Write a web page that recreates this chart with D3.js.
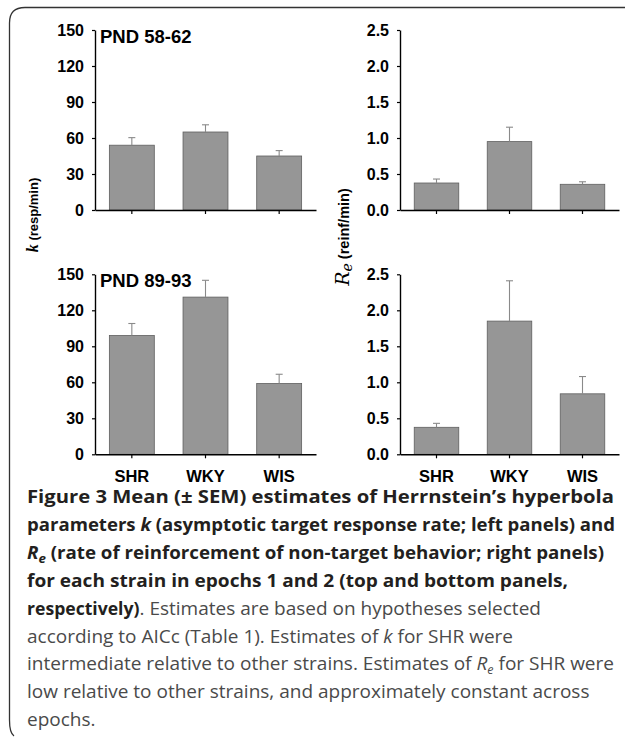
<!DOCTYPE html>
<html>
<head>
<meta charset="utf-8">
<script src="https://cdn.jsdelivr.net/npm/d3@7"></script>
<style>
  html, body { margin: 0; padding: 0; background: #fff; }
  svg { display: block; }
</style>
</head>
<body>
<svg id="chart" width="625" height="737"></svg>
<script>
// ---------- data ----------
const categories = ["SHR", "WKY", "WIS"];
const kEpoch1 = [54, 65, 45];
const kEpoch1Sem = [6.3, 6, 4.5];
const reEpoch1 = [0.375, 0.95, 0.357];
const reEpoch1Sem = [0.055, 0.2, 0.035];
const kEpoch2 = [99, 131, 59];
const kEpoch2Sem = [10, 14, 7.7];
const reEpoch2 = [0.375, 1.85, 0.84];
const reEpoch2Sem = [0.055, 0.56, 0.24];
const kTicks = [0, 30, 60, 90, 120, 150];
const reTicks = [0, 0.5, 1.0, 1.5, 2.0, 2.5];
const panelTitles = ["PND 58-62", "PND 89-93"];

const svg = d3.select("#chart");
const sansBold = "'Liberation Sans', Arial, sans-serif";

// frame
svg.append("path")
  .attr("d", "M625,7.5 H25 Q9.5,7.5 9.5,23 V720 Q9.5,733 14,736")
  .attr("fill", "none").attr("stroke", "#333").attr("stroke-width", 1.3);

function panel(opts) {
  const x = d3.scaleBand().domain(categories).range(opts.xr).paddingInner(0.39).paddingOuter(0.195);
  const y = d3.scaleLinear().domain([0, opts.max]).range(opts.yr);
  const g = svg.append("g");
  const data = categories.map((c, i) => ({c, v: opts.vals[i], e: opts.sem[i]}));

  g.selectAll("rect.bar").data(data).join("rect")
    .attr("x", d => x(d.c)).attr("width", x.bandwidth())
    .attr("y", d => y(d.v)).attr("height", d => y(0) - y(d.v))
    .attr("fill", "#969696").attr("stroke", "#5f5f5f").attr("stroke-width", 0.8);
  g.selectAll("line.err").data(data).join("line")
    .attr("x1", d => x(d.c) + x.bandwidth() / 2).attr("x2", d => x(d.c) + x.bandwidth() / 2)
    .attr("y1", d => y(d.v)).attr("y2", d => y(d.v + d.e))
    .attr("stroke", "#8a8a8a").attr("stroke-width", 1.1);
  g.selectAll("line.cap").data(data).join("line")
    .attr("x1", d => x(d.c) + x.bandwidth() / 2 - 3.5).attr("x2", d => x(d.c) + x.bandwidth() / 2 + 3.5)
    .attr("y1", d => y(d.v + d.e)).attr("y2", d => y(d.v + d.e))
    .attr("stroke", "#8a8a8a").attr("stroke-width", 1.1);

  const ya = g.append("g").attr("transform", `translate(${opts.xr[0]},0)`)
    .call(d3.axisLeft(y).tickValues(opts.ticks).tickSize(3).tickSizeOuter(0).tickPadding(8)
      .tickFormat(opts.fmt));
  ya.select(".domain").attr("stroke", "#000").attr("stroke-width", 1.4);
  ya.selectAll(".tick line").attr("stroke", "#000").attr("stroke-width", 1.2);
  ya.selectAll(".tick text").attr("font-family", sansBold).attr("font-weight", "bold")
    .attr("font-size", 16).attr("fill", "#000");

  const xa = g.append("g").attr("transform", `translate(0,${opts.yr[0]})`)
    .call(d3.axisBottom(x).tickSize(4).tickSizeOuter(0).tickPadding(12));
  xa.select(".domain").attr("stroke", "#000").attr("stroke-width", 1.4);
  xa.selectAll(".tick line").attr("stroke", "#000").attr("stroke-width", 1.2);
  xa.selectAll(".tick text").attr("font-family", sansBold).attr("font-weight", "bold")
    .attr("font-size", 16.5).attr("fill", "#000")
    .style("display", opts.xlabels ? null : "none");

  if (opts.title) {
    g.append("text").attr("x", opts.xr[0] + 5).attr("y", opts.yr[1] + 13)
      .attr("font-family", sansBold).attr("font-weight", "bold").attr("font-size", 18.5)
      .attr("fill", "#000").text(opts.title);
  }
}

const leftX = [95, 316], rightX = [400, 619];
const topY = [210, 30], botY = [454.3, 274.3];
const fmtK = d3.format("d"), fmtRe = d3.format(".1f");

panel({xr: leftX, yr: topY, max: 150, ticks: kTicks, fmt: fmtK, vals: kEpoch1, sem: kEpoch1Sem, title: panelTitles[0], xlabels: false});
panel({xr: rightX, yr: topY, max: 2.5, ticks: reTicks, fmt: fmtRe, vals: reEpoch1, sem: reEpoch1Sem, xlabels: false});
panel({xr: leftX, yr: botY, max: 150, ticks: kTicks, fmt: fmtK, vals: kEpoch2, sem: kEpoch2Sem, title: panelTitles[1], xlabels: true});
panel({xr: rightX, yr: botY, max: 2.5, ticks: reTicks, fmt: fmtRe, vals: reEpoch2, sem: reEpoch2Sem, xlabels: true});

// y-axis titles
const kt = svg.append("text").attr("transform", "translate(38,215) rotate(-90)")
  .attr("text-anchor", "middle").attr("font-family", sansBold).attr("font-weight", "bold")
  .attr("font-size", 13).attr("fill", "#000");
kt.append("tspan").attr("font-style", "italic").attr("font-family", "'Liberation Serif', serif").attr("font-size", 16).text("k");
kt.append("tspan").text(" (resp/min)");

const rt = svg.append("text").attr("transform", "translate(349,237) rotate(-90)")
  .attr("text-anchor", "middle").attr("font-family", sansBold).attr("font-weight", "bold")
  .attr("font-size", 14.5).attr("fill", "#000");
rt.append("tspan").attr("font-style", "italic").attr("font-weight", "normal")
  .attr("font-family", "'DejaVu Serif', serif").attr("font-size", 19).text("R");
rt.append("tspan").attr("font-style", "italic").attr("font-weight", "normal")
  .attr("font-family", "'DejaVu Serif', serif").attr("font-size", 14).attr("dy", 3).text("e");
rt.append("tspan").attr("dy", -3).text(" (reinf/min)");

// ---------- caption ----------
const capFont = "'Open Sans', 'Noto Sans', sans-serif";
const captionLines = [
  [{t: "Figure 3 Mean (± SEM) estimates of Herrnstein’s hyperbola", b: 1}],
  [{t: "parameters ", b: 1}, {t: "k", b: 1, i: 1}, {t: " (asymptotic target response rate; left panels) and", b: 1}],
  [{t: "R", b: 1, i: 1}, {t: "e", b: 1, i: 1, sub: 1}, {t: " (rate of reinforcement of non-target behavior; right panels)", b: 1}],
  [{t: "for each strain in epochs 1 and 2 (top and bottom panels,", b: 1}],
  [{t: "respectively)", b: 1}, {t: ". Estimates are based on hypotheses selected"}],
  [{t: "according to AICc (Table 1). Estimates of "}, {t: "k", i: 1}, {t: " for SHR were"}],
  [{t: "intermediate relative to other strains. Estimates of "}, {t: "R", i: 1}, {t: "e", i: 1, sub: 1}, {t: " for SHR were"}],
  [{t: "low relative to other strains, and approximately constant across"}],
  [{t: "epochs."}]
];
const captionWidths = [587, 588, 577, 541, 0, 0, 587, 0, 0];

captionLines.forEach((segs, li) => {
  const txt = svg.append("text").attr("x", 27).attr("y", 503 + li * 27.9)
    .attr("font-family", capFont).attr("font-size", li < 4 ? 17.6 : 19).attr("fill", "#231f20");
  let lowered = false;
  segs.forEach(s => {
    const ts = txt.append("tspan").text(s.t)
      .attr("font-weight", s.b ? 700 : 400)
      .attr("font-style", s.i ? "italic" : null)
      .attr("fill", s.b ? "#231f20" : "#4a4a4a");
    if (s.b && li === 4) ts.attr("font-size", 17.6);
    if (s.sub) { ts.attr("font-size", 12.5).attr("dy", 4); lowered = true; }
    else if (lowered) { ts.attr("dy", -4); lowered = false; }
  });
  if (captionWidths[li]) txt.attr("textLength", captionWidths[li]).attr("lengthAdjust", "spacingAndGlyphs");
});
</script>
</body>
</html>
